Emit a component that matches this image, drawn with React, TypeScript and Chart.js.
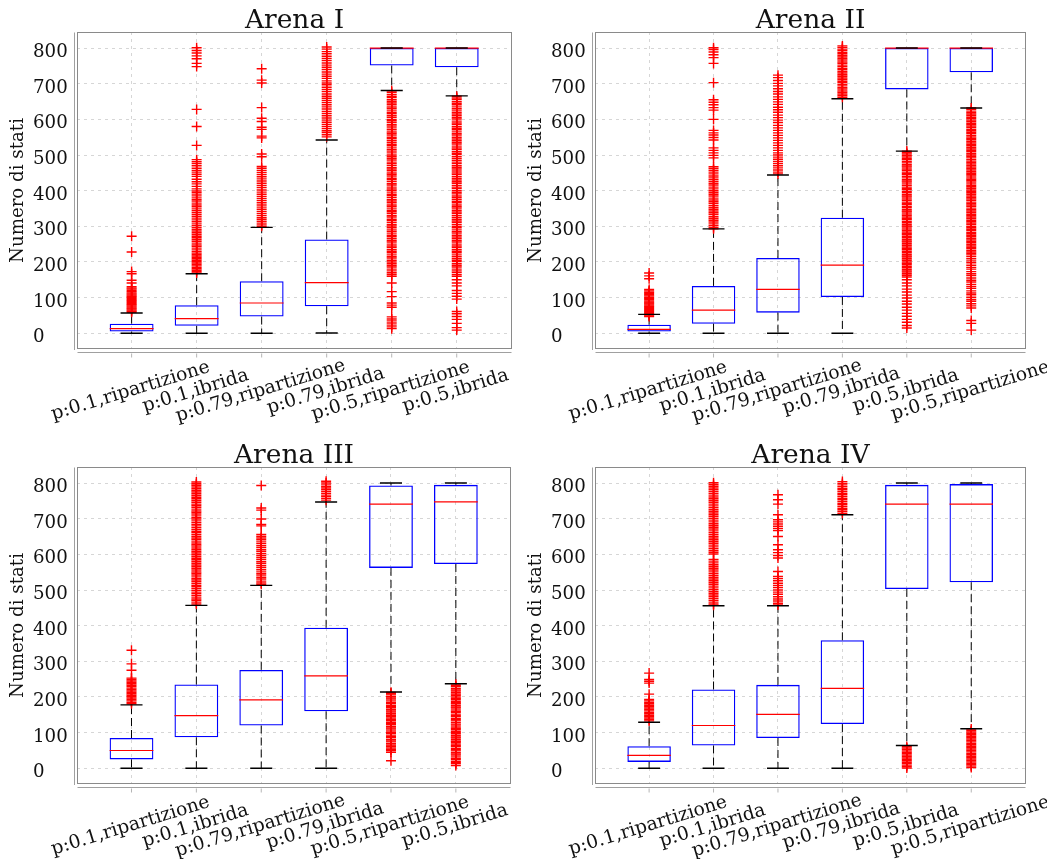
import { useEffect, useRef } from 'react';
import { Chart, registerables } from 'chart.js';

Chart.register(...registerables);

const SERIF = '"DejaVu Serif", "Liberation Serif", serif';

const LABELS_I_III = ['p:0.1,ripartizione', 'p:0.1,ibrida', 'p:0.79,ripartizione', 'p:0.79,ibrida', 'p:0.5,ripartizione', 'p:0.5,ibrida'];
const LABELS_II_IV = ['p:0.1,ripartizione', 'p:0.1,ibrida', 'p:0.79,ripartizione', 'p:0.79,ibrida', 'p:0.5,ibrida', 'p:0.5,ripartizione'];
const Y_TICKS = [0, 100, 200, 300, 400, 500, 600, 700, 800];
const Y_TITLE = 'Numero di stati';

// Arena I
const A1_LOW = [0, 0, 0, 1, 681, 666];
const A1_Q1 = [5, 21, 47, 76, 751, 746];
const A1_MED = [13, 41, 85, 142, 800, 800];
const A1_Q3 = [27, 79, 146, 263, 800, 800];
const A1_HIGH = [57, 167, 297, 542, 800, 800];
const A1_OUTLIERS = [
  [272, 228, 173, 167, 149, 141, 131, 127, 124, 120, 117, 113, 110, 107, 104, 101, 98, 95, 92, 89, 86, 83, 80, 77, 74, 71, 68, 65, 62, 59],
  [801, 793, 786, 778, 770, 757, 748, 628, 580, 527, 487, 481, 476, 470, 463, 457, 452, 446, 440, 432, 425, 419, 412, 405, 399, 394, 388, 382, 376, 371, 365, 360, 355, 349, 344, 339, 333, 328, 323, 318, 313, 307, 302, 297, 292, 287, 282, 277, 272, 268, 263, 258, 253, 248, 244, 239, 234, 229, 225, 221, 217, 213, 209, 205, 201, 197, 193, 189, 185, 181, 177, 173, 169],
  [742, 710, 702, 633, 603, 594, 578, 572, 553, 548, 503, 495, 468, 463, 457, 451, 445, 439, 433, 427, 421, 415, 409, 402, 396, 390, 384, 378, 372, 366, 360, 354, 348, 342, 336, 330, 324, 319, 314, 309, 304, 300],
  [803, 797, 790, 784, 777, 771, 765, 758, 752, 746, 740, 733, 727, 721, 715, 708, 702, 697, 690, 684, 678, 671, 665, 659, 653, 647, 641, 635, 629, 622, 616, 610, 604, 598, 592, 586, 580, 574, 568, 563, 557, 551],
  [680, 676, 670, 665, 661, 655, 650, 646, 641, 635, 631, 626, 620, 616, 611, 606, 600, 596, 591, 585, 581, 576, 571, 565, 561, 556, 550, 546, 541, 536, 530, 526, 520, 515, 511, 506, 500, 496, 491, 486, 480, 476, 471, 465, 461, 456, 450, 446, 441, 435, 431, 426, 420, 416, 410, 405, 401, 396, 390, 386, 381, 375, 371, 366, 360, 356, 351, 345, 341, 336, 330, 326, 320, 316, 311, 305, 301, 296, 290, 286, 281, 275, 271, 265, 260, 256, 250, 245, 241, 235, 230, 226, 220, 215, 211, 205, 200, 195, 190, 186, 180, 175, 170, 165, 160, 141, 117, 103, 85, 79, 73, 46, 40, 35, 29, 23, 18, 13],
  [665, 660, 656, 650, 645, 641, 635, 630, 626, 620, 615, 610, 605, 601, 595, 590, 586, 580, 575, 571, 565, 560, 556, 550, 545, 540, 535, 531, 525, 520, 516, 510, 505, 501, 495, 490, 485, 480, 476, 470, 465, 461, 455, 450, 446, 440, 435, 430, 425, 421, 415, 410, 406, 400, 395, 391, 385, 380, 375, 370, 366, 360, 355, 351, 345, 340, 336, 330, 325, 320, 315, 311, 305, 300, 296, 290, 285, 281, 275, 270, 265, 260, 256, 250, 245, 241, 235, 230, 226, 220, 215, 210, 205, 201, 195, 190, 186, 180, 175, 171, 165, 160, 150, 141, 133, 120, 112, 104, 96, 61, 55, 47, 39, 28, 16, 9],
];

// Arena II
const A2_LOW = [0, 0, 0, 0, 511, 632];
const A2_Q1 = [5, 27, 58, 102, 684, 732];
const A2_MED = [11, 65, 123, 191, 800, 800];
const A2_Q3 = [24, 133, 211, 324, 800, 800];
const A2_HIGH = [53, 293, 444, 658, 800, 800];
const A2_OUTLIERS = [
  [169, 161, 153, 123, 119, 115, 112, 108, 105, 101, 98, 95, 91, 88, 85, 82, 79, 76, 73, 70, 67, 64, 61, 58, 55, 52, 49, 47],
  [801, 796, 789, 781, 773, 757, 703, 655, 648, 641, 633, 626, 600, 569, 562, 556, 549, 542, 520, 513, 506, 499, 492, 467, 462, 457, 452, 447, 441, 436, 431, 426, 421, 416, 410, 405, 400, 395, 390, 385, 379, 374, 369, 364, 358, 353, 348, 343, 338, 333, 327, 322, 317, 312, 307, 302, 297, 293],
  [724, 717, 709, 701, 694, 686, 678, 671, 663, 656, 649, 642, 634, 627, 620, 612, 605, 598, 591, 583, 576, 569, 562, 555, 548, 541, 534, 527, 520, 513, 506, 500, 494, 488, 482, 476, 470, 464, 458, 452, 447],
  [806, 802, 797, 793, 788, 784, 779, 775, 770, 766, 761, 757, 752, 748, 743, 739, 734, 730, 725, 721, 716, 712, 707, 703, 698, 694, 689, 685, 680, 676, 671, 667, 662],
  [511, 507, 503, 498, 494, 490, 487, 482, 478, 473, 469, 466, 461, 457, 452, 448, 445, 440, 436, 431, 427, 424, 419, 415, 410, 406, 403, 398, 394, 389, 385, 382, 377, 373, 368, 364, 361, 356, 352, 347, 343, 340, 335, 331, 326, 322, 319, 314, 310, 305, 301, 298, 293, 289, 284, 280, 277, 272, 268, 263, 259, 256, 251, 247, 242, 238, 235, 230, 226, 221, 217, 214, 209, 205, 200, 196, 193, 188, 184, 179, 175, 172, 167, 163, 158, 150, 141, 133, 124, 116, 107, 99, 90, 82, 73, 65, 56, 48, 39, 31, 22, 15],
  [632, 628, 623, 619, 615, 611, 606, 602, 598, 594, 589, 585, 581, 577, 572, 568, 564, 560, 555, 551, 547, 543, 538, 534, 530, 526, 521, 517, 513, 509, 504, 500, 496, 492, 487, 483, 479, 475, 470, 466, 462, 458, 453, 449, 445, 441, 436, 432, 428, 424, 419, 415, 411, 407, 402, 398, 394, 390, 385, 381, 377, 373, 368, 364, 360, 356, 351, 347, 343, 339, 334, 330, 326, 322, 317, 313, 309, 305, 300, 296, 292, 288, 283, 279, 275, 271, 266, 262, 258, 254, 249, 245, 241, 237, 232, 228, 224, 220, 215, 209, 203, 198, 191, 185, 180, 173, 167, 162, 155, 149, 144, 137, 131, 126, 119, 113, 108, 101, 95, 90, 83, 77, 71, 36, 28, 9],
];

// Arena III
const A3_LOW = [0, 0, 0, 0, 214, 237];
const A3_Q1 = [25, 87, 120, 160, 562, 573];
const A3_MED = [50, 148, 192, 259, 741, 747];
const A3_Q3 = [85, 235, 276, 394, 793, 795];
const A3_HIGH = [178, 457, 513, 747, 800, 800];
const A3_OUTLIERS = [
  [331, 293, 275, 253, 249, 245, 241, 237, 233, 229, 225, 221, 217, 213, 209, 205, 201, 197, 193, 189, 185, 181],
  [803, 798, 794, 789, 784, 779, 775, 770, 765, 760, 756, 751, 746, 741, 737, 732, 727, 722, 718, 713, 708, 703, 699, 694, 689, 684, 680, 675, 670, 665, 661, 656, 651, 646, 642, 637, 632, 627, 623, 618, 613, 608, 604, 599, 594, 589, 585, 580, 575, 570, 566, 561, 556, 551, 547, 542, 537, 532, 528, 523, 518, 513, 509, 504, 499, 494, 490, 485, 480, 475, 471, 466, 461],
  [793, 730, 724, 699, 684, 680, 656, 651, 646, 641, 635, 630, 624, 619, 613, 608, 602, 597, 591, 586, 580, 575, 569, 564, 558, 553, 547, 542, 536, 531, 525, 520, 516],
  [805, 800, 795, 790, 786, 781, 776, 771, 766, 762, 757, 752],
  [213, 209, 206, 201, 197, 194, 189, 185, 182, 177, 173, 170, 165, 161, 158, 153, 149, 146, 141, 137, 134, 129, 125, 122, 117, 113, 110, 105, 101, 98, 93, 89, 86, 81, 77, 74, 69, 65, 62, 57, 53, 50, 45, 21],
  [236, 232, 229, 224, 220, 217, 212, 208, 205, 200, 196, 193, 188, 184, 181, 176, 172, 169, 164, 160, 157, 152, 148, 145, 140, 136, 133, 128, 124, 121, 116, 112, 109, 104, 100, 97, 92, 88, 85, 80, 76, 73, 68, 64, 61, 56, 52, 49, 44, 40, 37, 32, 28, 25, 20, 16, 13, 8],
];

// Arena IV
const A4_LOW = [0, 0, 0, 0, 64, 111];
const A4_Q1 = [18, 64, 85, 124, 503, 522];
const A4_MED = [36, 120, 151, 224, 741, 741];
const A4_Q3 = [62, 221, 234, 359, 795, 797];
const A4_HIGH = [129, 456, 456, 711, 800, 800];
const A4_OUTLIERS = [
  [267, 249, 244, 239, 208, 193, 189, 185, 181, 177, 173, 169, 165, 161, 157, 153, 149, 145, 141, 137, 133],
  [801, 796, 791, 786, 781, 776, 771, 766, 761, 756, 751, 746, 741, 736, 731, 726, 721, 716, 711, 706, 701, 696, 691, 686, 681, 676, 671, 666, 661, 656, 651, 646, 641, 636, 631, 626, 621, 616, 611, 606, 601, 586, 581, 576, 571, 566, 561, 556, 551, 546, 541, 536, 531, 526, 521, 516, 511, 506, 501, 496, 491, 486, 481, 476, 471, 466, 461, 457],
  [767, 753, 741, 711, 697, 691, 685, 679, 673, 667, 650, 627, 613, 605, 597, 590, 552, 538, 532, 526, 519, 513, 507, 500, 494, 488, 481, 475, 469, 463, 458],
  [804, 799, 795, 790, 785, 781, 776, 771, 767, 762, 757, 753, 748, 743, 739, 734, 729, 725, 720, 715],
  [61, 57, 53, 49, 45, 41, 37, 33, 29, 25, 21, 17, 13, 9, 5, 1],
  [110, 106, 102, 98, 94, 90, 86, 82, 78, 74, 70, 66, 62, 58, 54, 50, 46, 42, 38, 34, 30, 26, 22, 18, 14, 10, 6, 2],
];

const X_MIN = 0.16;
const X_MAX = 6.85;
const Y_MIN = -44;
const Y_MAX = 845;
const BOX_WIDTH = 0.675; // share of the spacing between two boxes
const CAP_HALF = 0.17;
const LABEL_ANGLE = (17 * Math.PI) / 180;
const TEXT_SIZE = 18.7;
const TITLE_SIZE = 26.5;

type Area = { left: number; right: number; top: number; bottom: number };

type PanelProps = {
  title: string;
  labels: string[];
  low: number[];
  q1: number[];
  med: number[];
  q3: number[];
  high: number[];
  outliers: number[][];
  left: number;
  top: number;
  width: number;
  height: number;
  area: Area;
};

function BoxPanel(p: PanelProps) {
  const ref = useRef<HTMLCanvasElement | null>(null);

  useEffect(() => {
    const canvas = ref.current;
    if (!canvas) return;
    const area = p.area;
    const pos = p.labels.map((_, i) => i + 1);
    const half = BOX_WIDTH / 2;
    const gap = (x: number) => ({ x, y: null });

    const boxes = pos.map((x, i) => ({ x, y: [p.q1[i], p.q3[i]] }));
    const medians = pos.flatMap((x, i) => [
      { x: x - half, y: p.med[i] },
      { x: x + half, y: p.med[i] },
      gap(x),
    ]);
    const whiskers = pos.flatMap((x, i) => [
      { x, y: p.q3[i] },
      { x, y: p.high[i] },
      gap(x),
      { x, y: p.q1[i] },
      { x, y: p.low[i] },
      gap(x),
    ]);
    const caps = pos.flatMap((x, i) => [
      { x: x - CAP_HALF, y: p.high[i] },
      { x: x + CAP_HALF, y: p.high[i] },
      gap(x),
      { x: x - CAP_HALF, y: p.low[i] },
      { x: x + CAP_HALF, y: p.low[i] },
      gap(x),
    ]);
    const points = pos.flatMap((x, i) => p.outliers[i].map((y) => ({ x, y })));

    const decor = {
      id: 'arenaDecor',
      afterDraw(chart: any) {
        const { ctx, chartArea: a } = chart;
        const xs = chart.scales.x;
        const ys = chart.scales.y;
        ctx.save();
        const L = Math.round(a.left) + 0.5;
        const R = Math.round(a.right) - 0.5;
        const T = Math.round(a.top) + 0.5;
        const B = Math.round(a.bottom) - 0.5;

        // axes box
        ctx.lineWidth = 1;
        ctx.strokeStyle = '#8a8a8a';
        ctx.strokeRect(L, T, R - L, B - T);

        // detached axis lines
        ctx.strokeStyle = '#a0a0a0';
        ctx.beginPath();
        ctx.moveTo(L - 3, T);
        ctx.lineTo(L - 3, B + 1.5);
        ctx.moveTo(L, B + 4);
        ctx.lineTo(R, B + 4);
        ctx.stroke();

        // x tick marks below the axis
        ctx.strokeStyle = '#b5b5b5';
        ctx.beginPath();
        xs.ticks.forEach((_: any, i: number) => {
          const x = xs.getPixelForTick(i);
          ctx.moveTo(x, B + 5);
          ctx.lineTo(x, B + 9);
        });
        ctx.stroke();

        // y tick labels
        ctx.fillStyle = '#111111';
        ctx.font = `18.2px ${SERIF}`;
        ctx.textAlign = 'left';
        ctx.textBaseline = 'alphabetic';
        Y_TICKS.forEach((v) => {
          ctx.fillText(String(v), a.left - 44, ys.getPixelForValue(v) + 8.9);
        });

        // rotated category labels
        ctx.font = `${TEXT_SIZE}px ${SERIF}`;
        ctx.textAlign = 'center';
        ctx.textBaseline = 'middle';
        p.labels.forEach((lab, i) => {
          const x = xs.getPixelForValue(i + 1);
          ctx.save();
          ctx.translate(x - 1, a.bottom + 42);
          ctx.rotate(-LABEL_ANGLE);
          ctx.fillText(lab, 0, 0);
          ctx.restore();
        });

        // y axis title
        ctx.font = `18.2px ${SERIF}`;
        ctx.save();
        ctx.translate(a.left - 59, (a.top + a.bottom) / 2);
        ctx.rotate(-Math.PI / 2);
        ctx.fillText(Y_TITLE, 0, 0);
        ctx.restore();

        // panel title
        ctx.font = `${TITLE_SIZE}px ${SERIF}`;
        ctx.textBaseline = 'alphabetic';
        ctx.fillText(p.title, (a.left + a.right) / 2, a.top - 3.7);
        ctx.restore();
      },
    };

    const gridStyle = { color: '#d6d6d6', lineWidth: 1, drawTicks: false, offset: false };
    const borderStyle = { display: false, dash: [3, 4] };

    const chart = new Chart(canvas, {
      type: 'scatter',
      data: {
        datasets: [
          {
            type: 'bar',
            data: boxes as any,
            backgroundColor: 'rgba(0,0,0,0)',
            borderColor: '#0000ff',
            borderWidth: 1.3,
            borderSkipped: false,
            barPercentage: BOX_WIDTH,
            categoryPercentage: 1,
            order: 5,
          } as any,
          {
            type: 'scatter',
            data: whiskers as any,
            showLine: true,
            borderColor: '#000000',
            borderWidth: 1,
            borderDash: [8, 4],
            pointRadius: 0,
            order: 4,
          },
          {
            type: 'scatter',
            data: points,
            pointStyle: 'cross',
            pointRadius: 5,
            borderColor: '#ff0000',
            pointBorderColor: '#ff0000',
            pointBorderWidth: 1.4,
            order: 3,
          },
          {
            type: 'scatter',
            data: medians as any,
            showLine: true,
            borderColor: '#ff0000',
            borderWidth: 1.2,
            pointRadius: 0,
            order: 2,
          },
          {
            type: 'scatter',
            data: caps as any,
            showLine: true,
            borderColor: '#000000',
            borderWidth: 1.4,
            pointRadius: 0,
            order: 1,
          },
        ],
      },
      options: {
        responsive: false,
        animation: false,
        devicePixelRatio: 1,
        events: [],
        layout: { padding: { left: 0, top: area.top, right: p.width - area.right, bottom: 0 } },
        scales: {
          x: {
            type: 'linear',
            min: X_MIN,
            max: X_MAX,
            offset: false,
            afterBuildTicks: (s: any) => {
              s.ticks = pos.map((v) => ({ value: v }));
            },
            afterFit: (s: any) => {
              s.height = p.height - area.bottom;
            },
            ticks: { display: false },
            grid: gridStyle,
            border: borderStyle,
          },
          y: {
            type: 'linear',
            min: Y_MIN,
            max: Y_MAX,
            afterBuildTicks: (s: any) => {
              s.ticks = Y_TICKS.map((v) => ({ value: v }));
            },
            afterFit: (s: any) => {
              s.width = area.left;
            },
            ticks: { display: false },
            grid: gridStyle,
            border: borderStyle,
          },
        },
        plugins: {
          legend: { display: false },
          tooltip: { enabled: false },
          title: { display: false },
        },
      } as any,
      plugins: [decor],
    });

    return () => chart.destroy();
  }, []);

  return (
    <canvas
      ref={ref}
      width={p.width}
      height={p.height}
      style={{ position: 'absolute', left: p.left, top: p.top, width: p.width, height: p.height }}
    />
  );
}

export default function App() {
  return (
    <div
      style={{
        position: 'absolute',
        left: 0,
        top: 0,
        width: 1047,
        height: 859,
        background: '#ffffff',
        overflow: 'hidden',
      }}
    >
      <BoxPanel
        title="Arena I"
        labels={LABELS_I_III}
        low={A1_LOW}
        q1={A1_Q1}
        med={A1_MED}
        q3={A1_Q3}
        high={A1_HIGH}
        outliers={A1_OUTLIERS}
        left={0}
        top={0}
        width={520}
        height={430}
        area={{ left: 77, right: 512, top: 32, bottom: 349 }}
      />
      <BoxPanel
        title="Arena II"
        labels={LABELS_II_IV}
        low={A2_LOW}
        q1={A2_Q1}
        med={A2_MED}
        q3={A2_Q3}
        high={A2_HIGH}
        outliers={A2_OUTLIERS}
        left={520}
        top={0}
        width={527}
        height={430}
        area={{ left: 75, right: 506, top: 32, bottom: 349 }}
      />
      <BoxPanel
        title="Arena III"
        labels={LABELS_I_III}
        low={A3_LOW}
        q1={A3_Q1}
        med={A3_MED}
        q3={A3_Q3}
        high={A3_HIGH}
        outliers={A3_OUTLIERS}
        left={0}
        top={430}
        width={520}
        height={429}
        area={{ left: 77, right: 511, top: 37, bottom: 354 }}
      />
      <BoxPanel
        title="Arena IV"
        labels={LABELS_II_IV}
        low={A4_LOW}
        q1={A4_Q1}
        med={A4_MED}
        q3={A4_Q3}
        high={A4_HIGH}
        outliers={A4_OUTLIERS}
        left={520}
        top={430}
        width={527}
        height={429}
        area={{ left: 75, right: 506, top: 37, bottom: 354 }}
      />
    </div>
  );
}
